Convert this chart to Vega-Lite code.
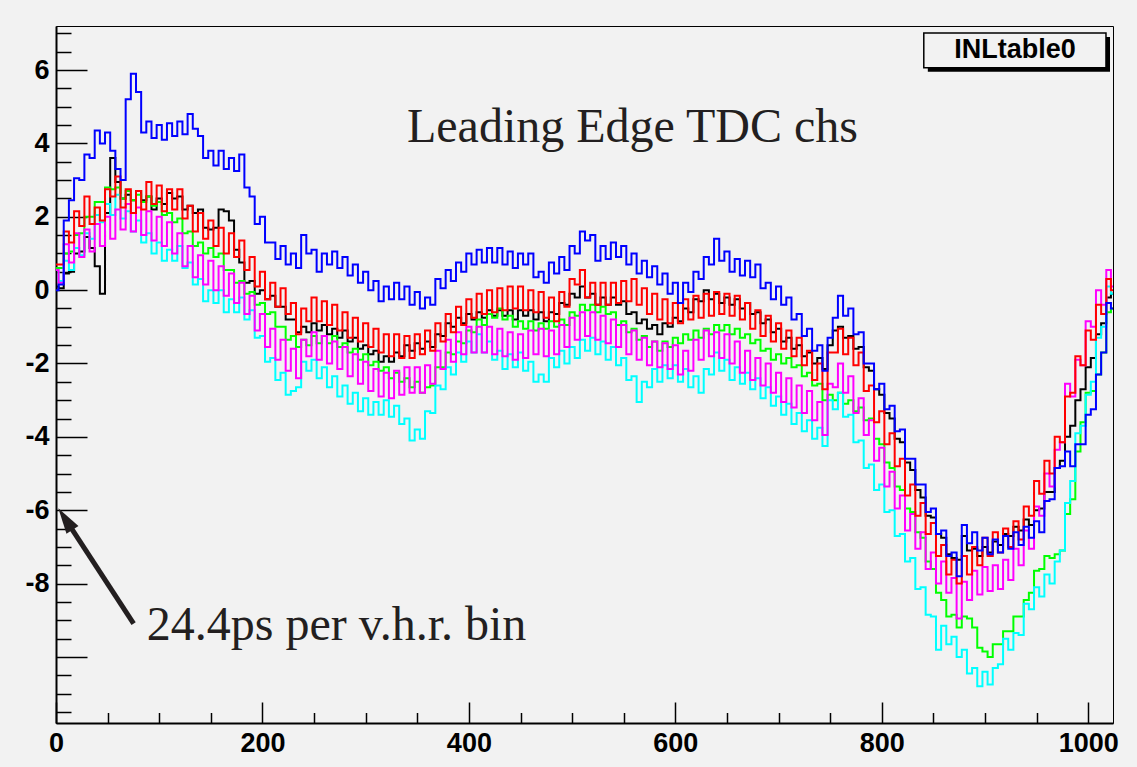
{
"$schema": "https://vega.github.io/schema/vega-lite/v6.json",
"width": 1057, "height": 697,
"autosize": {"type": "none"},
"padding": {"left": 56, "top": 26, "right": 24, "bottom": 44},
"background": "#f2f2f2",
"config": {"view": {"stroke": "#000000", "strokeWidth": 1, "fill": "#f2f2f2"}},
"datasets": {"inl": [
{"x":0,"b":0.0,"k":0.1,"r":0.7,"g":0.6,"m":0.55,"c":0.55},
{"x":5,"b":0.15,"k":0.05,"r":0.7,"g":0.6,"m":0.2,"c":0.25},
{"x":10,"b":1.9,"k":0.45,"r":1.6,"g":1.0,"m":1.25,"c":0.8},
{"x":15,"b":2.45,"k":0.5,"r":1.3,"g":1.05,"m":0.75,"c":0.55},
{"x":20,"b":3.05,"k":1.0,"r":2.15,"g":1.5,"m":1.55,"c":1.15},
{"x":25,"b":3.0,"k":1.05,"r":1.75,"g":1.55,"m":0.9,"c":0.95},
{"x":30,"b":3.7,"k":1.45,"r":2.55,"g":2.0,"m":1.65,"c":1.55},
{"x":35,"b":3.6,"k":1.15,"r":1.8,"g":2.0,"m":1.05,"c":1.4},
{"x":40,"b":4.35,"k":0.65,"r":2.25,"g":2.4,"m":1.8,"c":2.05},
{"x":45,"b":4.0,"k":-0.1,"r":1.9,"g":2.4,"m":1.2,"c":1.85},
{"x":50,"b":4.3,"k":2.1,"r":2.75,"g":2.8,"m":2.0,"c":2.35},
{"x":55,"b":3.8,"k":3.6,"r":2.55,"g":2.75,"m":1.4,"c":2.05},
{"x":60,"b":3.3,"k":2.95,"r":3.1,"g":2.8,"m":2.2,"c":2.6},
{"x":65,"b":3.0,"k":2.5,"r":2.25,"g":2.5,"m":1.65,"c":1.95},
{"x":70,"b":5.2,"k":2.6,"r":2.75,"g":2.7,"m":2.35,"c":2.15},
{"x":75,"b":5.9,"k":2.45,"r":2.1,"g":2.45,"m":1.6,"c":1.6},
{"x":80,"b":5.4,"k":2.7,"r":2.7,"g":2.6,"m":2.25,"c":1.9},
{"x":85,"b":4.3,"k":2.45,"r":2.2,"g":2.4,"m":1.5,"c":1.3},
{"x":90,"b":4.6,"k":2.55,"r":2.95,"g":2.55,"m":2.15,"c":1.55},
{"x":95,"b":4.15,"k":2.2,"r":2.35,"g":2.3,"m":1.35,"c":1.0},
{"x":100,"b":4.5,"k":2.5,"r":2.85,"g":2.4,"m":2.0,"c":1.3},
{"x":105,"b":4.1,"k":2.35,"r":2.15,"g":2.05,"m":1.2,"c":0.8},
{"x":110,"b":4.55,"k":2.65,"r":2.75,"g":2.1,"m":1.85,"c":1.1},
{"x":115,"b":4.2,"k":2.5,"r":2.2,"g":1.85,"m":1.0,"c":0.8},
{"x":120,"b":4.6,"k":2.55,"r":2.75,"g":1.95,"m":1.55,"c":1.2},
{"x":125,"b":4.25,"k":2.2,"r":1.95,"g":1.55,"m":0.65,"c":0.6},
{"x":130,"b":4.8,"k":2.3,"r":2.3,"g":1.6,"m":1.2,"c":0.75},
{"x":135,"b":4.4,"k":2.1,"r":1.6,"g":1.2,"m":0.35,"c":0.15},
{"x":140,"b":4.2,"k":2.2,"r":2.1,"g":1.3,"m":0.95,"c":0.3},
{"x":145,"b":3.6,"k":1.7,"r":1.4,"g":1.0,"m":0.15,"c":-0.3},
{"x":150,"b":3.8,"k":1.65,"r":1.9,"g":1.15,"m":0.8,"c":0.0},
{"x":155,"b":3.4,"k":1.7,"r":1.2,"g":0.9,"m":0.0,"c":-0.35},
{"x":160,"b":3.8,"k":2.2,"r":1.7,"g":1.0,"m":0.65,"c":0.0},
{"x":165,"b":3.3,"k":2.15,"r":1.0,"g":0.55,"m":-0.15,"c":-0.6},
{"x":170,"b":3.6,"k":1.9,"r":1.55,"g":0.55,"m":0.45,"c":-0.25},
{"x":175,"b":3.25,"k":1.1,"r":0.9,"g":0.2,"m":-0.35,"c":-0.6},
{"x":180,"b":3.7,"k":0.75,"r":1.35,"g":0.25,"m":0.2,"c":-0.2},
{"x":185,"b":2.8,"k":0.2,"r":0.55,"g":-0.1,"m":-0.65,"c":-0.8},
{"x":190,"b":2.55,"k":0.25,"r":0.9,"g":-0.05,"m":-0.15,"c":-0.55},
{"x":195,"b":1.8,"k":-0.1,"r":0.1,"g":-0.4,"m":-1.1,"c":-1.3},
{"x":200,"b":2.0,"k":0.0,"r":0.5,"g":-0.35,"m":-0.65,"c":-1.25},
{"x":205,"b":1.3,"k":-0.25,"r":-0.25,"g":-0.65,"m":-1.55,"c":-1.95},
{"x":210,"b":1.3,"k":-0.15,"r":0.2,"g":-0.6,"m":-1.05,"c":-1.85},
{"x":215,"b":0.85,"k":-0.45,"r":-0.45,"g":-1.0,"m":-1.9,"c":-2.45},
{"x":220,"b":1.2,"k":-0.45,"r":0.05,"g":-1.0,"m":-1.35,"c":-2.25},
{"x":225,"b":0.7,"k":-0.8,"r":-0.65,"g":-1.35,"m":-2.2,"c":-2.85},
{"x":230,"b":1.0,"k":-0.8,"r":-0.35,"g":-1.25,"m":-1.6,"c":-2.75},
{"x":235,"b":0.6,"k":-1.15,"r":-1.2,"g":-1.55,"m":-2.4,"c":-2.65},
{"x":240,"b":1.5,"k":-1.0,"r":-0.5,"g":-1.35,"m":-1.35,"c":-1.95},
{"x":245,"b":1.0,"k":-1.15,"r":-0.85,"g":-1.5,"m":-1.8,"c":-2.2},
{"x":250,"b":1.1,"k":-0.9,"r":-0.2,"g":-1.25,"m":-1.15,"c":-1.9},
{"x":255,"b":0.5,"k":-1.1,"r":-0.85,"g":-1.45,"m":-1.9,"c":-2.4},
{"x":260,"b":1.0,"k":-0.95,"r":-0.3,"g":-1.25,"m":-1.25,"c":-2.1},
{"x":265,"b":0.7,"k":-1.2,"r":-0.95,"g":-1.45,"m":-2.0,"c":-2.65},
{"x":270,"b":1.05,"k":-1.05,"r":-0.4,"g":-1.25,"m":-1.4,"c":-2.35},
{"x":275,"b":0.6,"k":-1.3,"r":-1.1,"g":-1.55,"m":-2.15,"c":-2.9},
{"x":280,"b":0.9,"k":-1.1,"r":-0.6,"g":-1.45,"m":-1.55,"c":-2.6},
{"x":285,"b":0.4,"k":-1.4,"r":-1.3,"g":-1.7,"m":-2.35,"c":-3.1},
{"x":290,"b":0.7,"k":-1.3,"r":-0.75,"g":-1.6,"m":-1.75,"c":-2.8},
{"x":295,"b":0.2,"k":-1.6,"r":-1.4,"g":-1.9,"m":-2.55,"c":-3.3},
{"x":300,"b":0.5,"k":-1.5,"r":-0.9,"g":-1.75,"m":-1.95,"c":-2.95},
{"x":305,"b":0.0,"k":-1.75,"r":-1.55,"g":-2.05,"m":-2.75,"c":-3.4},
{"x":310,"b":0.25,"k":-1.65,"r":-1.05,"g":-1.95,"m":-2.15,"c":-3.05},
{"x":315,"b":-0.3,"k":-1.95,"r":-1.7,"g":-2.2,"m":-2.9,"c":-3.4},
{"x":320,"b":0.1,"k":-1.8,"r":-1.2,"g":-2.1,"m":-2.25,"c":-3.0},
{"x":325,"b":-0.25,"k":-1.95,"r":-1.8,"g":-2.4,"m":-2.95,"c":-3.45},
{"x":330,"b":0.2,"k":-1.7,"r":-1.2,"g":-2.25,"m":-2.2,"c":-3.15},
{"x":335,"b":-0.25,"k":-1.8,"r":-1.85,"g":-2.5,"m":-2.85,"c":-3.65},
{"x":340,"b":0.1,"k":-1.5,"r":-1.25,"g":-2.4,"m":-2.1,"c":-3.5},
{"x":345,"b":-0.4,"k":-1.65,"r":-1.85,"g":-2.65,"m":-2.8,"c":-4.1},
{"x":350,"b":-0.05,"k":-1.45,"r":-1.2,"g":-2.5,"m":-2.1,"c":-3.8},
{"x":355,"b":-0.5,"k":-1.6,"r":-1.75,"g":-2.8,"m":-2.8,"c":-4.05},
{"x":360,"b":-0.2,"k":-1.4,"r":-1.1,"g":-2.65,"m":-2.05,"c":-3.3},
{"x":365,"b":-0.4,"k":-1.55,"r":-1.65,"g":-2.6,"m":-2.55,"c":-3.35},
{"x":370,"b":0.3,"k":-1.2,"r":-0.9,"g":-2.1,"m":-1.65,"c":-2.6},
{"x":375,"b":0.05,"k":-1.25,"r":-1.4,"g":-2.1,"m":-2.15,"c":-2.7},
{"x":380,"b":0.55,"k":-0.9,"r":-0.65,"g":-1.7,"m":-1.35,"c":-2.1},
{"x":385,"b":0.25,"k":-1.0,"r":-1.15,"g":-1.75,"m":-1.95,"c":-2.3},
{"x":390,"b":0.75,"k":-0.75,"r":-0.45,"g":-1.4,"m":-1.15,"c":-1.7},
{"x":395,"b":0.5,"k":-0.9,"r":-0.95,"g":-1.45,"m":-1.75,"c":-1.95},
{"x":400,"b":1.0,"k":-0.65,"r":-0.25,"g":-1.1,"m":-1.0,"c":-1.4},
{"x":405,"b":0.7,"k":-0.8,"r":-0.75,"g":-1.15,"m":-1.7,"c":-1.7},
{"x":410,"b":1.1,"k":-0.6,"r":-0.1,"g":-0.8,"m":-1.0,"c":-1.2},
{"x":415,"b":0.75,"k":-0.75,"r":-0.65,"g":-0.95,"m":-1.7,"c":-1.7},
{"x":420,"b":1.15,"k":-0.55,"r":0.0,"g":-0.65,"m":-1.0,"c":-1.4},
{"x":425,"b":0.75,"k":-0.7,"r":-0.6,"g":-0.75,"m":-1.75,"c":-1.9},
{"x":430,"b":1.15,"k":-0.55,"r":0.05,"g":-0.5,"m":-1.05,"c":-1.65},
{"x":435,"b":0.7,"k":-0.7,"r":-0.55,"g":-0.8,"m":-1.8,"c":-2.15},
{"x":440,"b":1.05,"k":-0.55,"r":0.1,"g":-0.7,"m":-1.15,"c":-1.75},
{"x":445,"b":0.6,"k":-0.8,"r":-0.5,"g":-1.0,"m":-1.9,"c":-2.1},
{"x":450,"b":1.0,"k":-0.55,"r":0.1,"g":-0.85,"m":-1.2,"c":-1.7},
{"x":455,"b":0.7,"k":-0.7,"r":-0.55,"g":-1.05,"m":-1.85,"c":-2.2},
{"x":460,"b":1.0,"k":-0.55,"r":0.0,"g":-0.85,"m":-1.1,"c":-1.95},
{"x":465,"b":0.35,"k":-0.8,"r":-0.6,"g":-1.1,"m":-1.75,"c":-2.5},
{"x":470,"b":0.5,"k":-0.6,"r":-0.05,"g":-0.9,"m":-1.05,"c":-2.3},
{"x":475,"b":0.2,"k":-0.85,"r":-0.75,"g":-1.05,"m":-1.8,"c":-2.5},
{"x":480,"b":0.75,"k":-0.6,"r":-0.2,"g":-0.85,"m":-1.1,"c":-1.85},
{"x":485,"b":0.45,"k":-0.65,"r":-0.85,"g":-1.0,"m":-1.75,"c":-2.1},
{"x":490,"b":0.9,"k":-0.35,"r":-0.05,"g":-0.8,"m":-0.95,"c":-1.65},
{"x":495,"b":0.55,"k":-0.4,"r":-0.45,"g":-0.95,"m":-1.55,"c":-2.0},
{"x":500,"b":1.2,"k":-0.1,"r":0.3,"g":-0.6,"m":-0.75,"c":-1.55},
{"x":505,"b":1.0,"k":-0.2,"r":0.15,"g":-0.7,"m":-1.35,"c":-1.85},
{"x":510,"b":1.6,"k":0.1,"r":0.55,"g":-0.4,"m":-0.6,"c":-1.35},
{"x":515,"b":1.35,"k":-0.2,"r":-0.2,"g":-0.55,"m":-1.25,"c":-1.65},
{"x":520,"b":1.5,"k":-0.1,"r":0.2,"g":-0.4,"m":-0.6,"c":-1.3},
{"x":525,"b":0.8,"k":-0.4,"r":-0.4,"g":-0.6,"m":-1.35,"c":-1.75},
{"x":530,"b":1.2,"k":-0.2,"r":0.2,"g":-0.45,"m":-0.7,"c":-1.4},
{"x":535,"b":0.85,"k":-0.4,"r":-0.4,"g":-0.65,"m":-1.45,"c":-1.9},
{"x":540,"b":1.3,"k":-0.2,"r":0.2,"g":-0.6,"m":-0.8,"c":-1.55},
{"x":545,"b":0.9,"k":-0.4,"r":-0.35,"g":-0.95,"m":-1.55,"c":-2.05},
{"x":550,"b":1.2,"k":-0.3,"r":0.25,"g":-0.85,"m":-0.95,"c":-1.85},
{"x":555,"b":0.7,"k":-0.65,"r":-0.3,"g":-1.15,"m":-1.75,"c":-2.45},
{"x":560,"b":1.0,"k":-0.6,"r":0.3,"g":-1.05,"m":-1.1,"c":-2.35},
{"x":565,"b":0.45,"k":-0.9,"r":-0.4,"g":-1.35,"m":-1.9,"c":-3.05},
{"x":570,"b":0.8,"k":-0.8,"r":0.05,"g":-1.25,"m":-1.3,"c":-2.5},
{"x":575,"b":0.35,"k":-1.05,"r":-0.65,"g":-1.55,"m":-2.05,"c":-2.65},
{"x":580,"b":0.65,"k":-0.95,"r":-0.1,"g":-1.4,"m":-1.4,"c":-2.15},
{"x":585,"b":0.15,"k":-1.2,"r":-0.8,"g":-1.65,"m":-2.1,"c":-2.5},
{"x":590,"b":0.45,"k":-0.9,"r":-0.25,"g":-1.4,"m":-1.45,"c":-2.05},
{"x":595,"b":-0.1,"k":-1.0,"r":-0.9,"g":-1.55,"m":-2.15,"c":-2.4},
{"x":600,"b":0.2,"k":-0.75,"r":-0.35,"g":-1.3,"m":-1.5,"c":-2.05},
{"x":605,"b":-0.35,"k":-0.85,"r":-0.9,"g":-1.45,"m":-2.3,"c":-2.5},
{"x":610,"b":0.2,"k":-0.5,"r":-0.25,"g":-1.2,"m":-1.65,"c":-2.15},
{"x":615,"b":-0.05,"k":-0.6,"r":-0.8,"g":-1.35,"m":-2.2,"c":-2.65},
{"x":620,"b":0.5,"k":-0.25,"r":-0.15,"g":-1.1,"m":-1.35,"c":-2.35},
{"x":625,"b":0.3,"k":-0.3,"r":-0.75,"g":-1.3,"m":-1.9,"c":-2.8},
{"x":630,"b":0.9,"k":0.0,"r":-0.1,"g":-1.05,"m":-1.1,"c":-2.15},
{"x":635,"b":0.7,"k":-0.25,"r":-0.7,"g":-1.2,"m":-1.8,"c":-2.3},
{"x":640,"b":1.4,"k":-0.1,"r":-0.05,"g":-0.95,"m":-1.15,"c":-1.7},
{"x":645,"b":0.8,"k":-0.35,"r":-0.65,"g":-1.1,"m":-1.85,"c":-2.2},
{"x":650,"b":1.05,"k":-0.2,"r":-0.1,"g":-0.95,"m":-1.2,"c":-1.9},
{"x":655,"b":0.5,"k":-0.4,"r":-0.7,"g":-1.2,"m":-2.0,"c":-2.45},
{"x":660,"b":0.85,"k":-0.25,"r":-0.15,"g":-1.05,"m":-1.4,"c":-2.1},
{"x":665,"b":0.4,"k":-0.5,"r":-0.8,"g":-1.3,"m":-2.25,"c":-2.55},
{"x":670,"b":0.8,"k":-0.35,"r":-0.35,"g":-1.2,"m":-1.65,"c":-2.25},
{"x":675,"b":0.35,"k":-0.65,"r":-1.05,"g":-1.45,"m":-2.45,"c":-2.7},
{"x":680,"b":0.7,"k":-0.6,"r":-0.55,"g":-1.35,"m":-1.85,"c":-2.4},
{"x":685,"b":0.05,"k":-0.9,"r":-1.25,"g":-1.65,"m":-2.6,"c":-2.95},
{"x":690,"b":0.2,"k":-0.8,"r":-0.7,"g":-1.6,"m":-2.0,"c":-2.65},
{"x":695,"b":-0.25,"k":-1.15,"r":-1.4,"g":-1.9,"m":-2.8,"c":-3.15},
{"x":700,"b":0.1,"k":-1.05,"r":-0.9,"g":-1.75,"m":-2.25,"c":-2.9},
{"x":705,"b":-0.4,"k":-1.4,"r":-1.6,"g":-2.0,"m":-3.05,"c":-3.4},
{"x":710,"b":-0.2,"k":-1.3,"r":-1.1,"g":-1.85,"m":-2.4,"c":-3.1},
{"x":715,"b":-0.8,"k":-1.6,"r":-1.8,"g":-2.1,"m":-3.2,"c":-3.65},
{"x":720,"b":-0.65,"k":-1.5,"r":-1.3,"g":-2.05,"m":-2.6,"c":-3.35},
{"x":725,"b":-1.25,"k":-1.8,"r":-2.05,"g":-2.35,"m":-3.35,"c":-3.85},
{"x":730,"b":-1.05,"k":-1.7,"r":-1.65,"g":-2.25,"m":-2.75,"c":-3.55},
{"x":735,"b":-1.65,"k":-2.0,"r":-2.45,"g":-2.6,"m":-3.55,"c":-4.05},
{"x":740,"b":-1.5,"k":-1.85,"r":-2.0,"g":-2.55,"m":-3.05,"c":-3.75},
{"x":745,"b":-2.2,"k":-2.15,"r":-2.7,"g":-3.0,"m":-3.95,"c":-4.25},
{"x":750,"b":-1.3,"k":-1.5,"r":-1.7,"g":-2.85,"m":-2.55,"c":-3.0},
{"x":755,"b":-0.75,"k":-1.1,"r":-1.7,"g":-3.0,"m":-2.65,"c":-3.25},
{"x":760,"b":-0.15,"k":-1.0,"r":-1.05,"g":-2.8,"m":-2.0,"c":-2.8},
{"x":765,"b":-0.7,"k":-1.3,"r":-1.75,"g":-3.1,"m":-2.8,"c":-3.45},
{"x":770,"b":-0.5,"k":-1.25,"r":-1.3,"g":-3.0,"m":-2.35,"c":-3.4},
{"x":775,"b":-1.2,"k":-1.6,"r":-2.05,"g":-3.3,"m":-3.35,"c":-4.15},
{"x":780,"b":-1.15,"k":-1.55,"r":-1.7,"g":-3.2,"m":-2.95,"c":-4.1},
{"x":785,"b":-2.0,"k":-2.1,"r":-2.75,"g":-3.55,"m":-3.95,"c":-4.85},
{"x":790,"b":-2.0,"k":-2.2,"r":-2.6,"g":-3.5,"m":-3.55,"c":-4.75},
{"x":795,"b":-2.7,"k":-2.7,"r":-3.6,"g":-4.05,"m":-4.65,"c":-5.45},
{"x":800,"b":-2.55,"k":-2.85,"r":-3.3,"g":-4.2,"m":-4.3,"c":-5.3},
{"x":805,"b":-3.25,"k":-3.35,"r":-4.2,"g":-4.7,"m":-5.35,"c":-6.05},
{"x":810,"b":-3.15,"k":-3.5,"r":-3.9,"g":-4.85,"m":-4.95,"c":-6.0},
{"x":815,"b":-3.85,"k":-4.05,"r":-4.8,"g":-5.35,"m":-5.95,"c":-6.7},
{"x":820,"b":-3.8,"k":-4.15,"r":-4.6,"g":-5.45,"m":-5.6,"c":-6.65},
{"x":825,"b":-4.6,"k":-4.7,"r":-5.6,"g":-5.95,"m":-6.55,"c":-7.4},
{"x":830,"b":-4.6,"k":-4.9,"r":-5.3,"g":-6.05,"m":-6.1,"c":-7.3},
{"x":835,"b":-5.3,"k":-5.45,"r":-6.15,"g":-6.6,"m":-7.05,"c":-8.15},
{"x":840,"b":-5.3,"k":-5.65,"r":-5.8,"g":-6.75,"m":-6.6,"c":-8.1},
{"x":845,"b":-6.05,"k":-6.15,"r":-6.65,"g":-7.4,"m":-7.6,"c":-8.85},
{"x":850,"b":-5.95,"k":-6.2,"r":-6.35,"g":-7.6,"m":-7.15,"c":-8.9},
{"x":855,"b":-6.65,"k":-6.65,"r":-7.25,"g":-8.25,"m":-8.0,"c":-9.8},
{"x":860,"b":-6.55,"k":-6.75,"r":-6.95,"g":-8.45,"m":-7.4,"c":-9.15},
{"x":865,"b":-7.25,"k":-7.2,"r":-7.75,"g":-8.9,"m":-8.25,"c":-9.65},
{"x":870,"b":-7.15,"k":-7.3,"r":-7.35,"g":-8.85,"m":-7.85,"c":-9.45},
{"x":875,"b":-7.8,"k":-7.35,"r":-8.0,"g":-9.2,"m":-8.95,"c":-10.0},
{"x":880,"b":-6.4,"k":-6.7,"r":-7.25,"g":-8.9,"m":-7.95,"c":-9.8},
{"x":885,"b":-6.9,"k":-7.1,"r":-7.75,"g":-8.95,"m":-8.45,"c":-10.45},
{"x":890,"b":-6.6,"k":-7.05,"r":-7.0,"g":-9.2,"m":-7.65,"c":-10.3},
{"x":895,"b":-7.1,"k":-7.25,"r":-7.5,"g":-9.75,"m":-8.3,"c":-10.8},
{"x":900,"b":-6.75,"k":-7.0,"r":-6.75,"g":-9.85,"m":-7.55,"c":-10.4},
{"x":905,"b":-7.2,"k":-7.15,"r":-7.25,"g":-10.0,"m":-8.2,"c":-10.75},
{"x":910,"b":-6.8,"k":-6.85,"r":-6.6,"g":-9.65,"m":-7.5,"c":-10.3},
{"x":915,"b":-7.15,"k":-6.95,"r":-7.15,"g":-9.65,"m":-8.15,"c":-10.2},
{"x":920,"b":-6.7,"k":-6.65,"r":-6.5,"g":-9.3,"m":-7.35,"c":-9.5},
{"x":925,"b":-7.05,"k":-6.7,"r":-7.0,"g":-9.3,"m":-7.9,"c":-9.8},
{"x":930,"b":-6.6,"k":-6.45,"r":-6.3,"g":-8.9,"m":-7.05,"c":-9.35},
{"x":935,"b":-6.95,"k":-6.55,"r":-6.8,"g":-8.9,"m":-7.5,"c":-9.4},
{"x":940,"b":-6.45,"k":-6.25,"r":-5.9,"g":-8.45,"m":-6.55,"c":-8.55},
{"x":945,"b":-6.75,"k":-6.4,"r":-6.15,"g":-8.25,"m":-7.05,"c":-8.7},
{"x":950,"b":-6.3,"k":-6.0,"r":-5.2,"g":-7.65,"m":-5.9,"c":-8.1},
{"x":955,"b":-6.6,"k":-5.95,"r":-5.55,"g":-7.6,"m":-6.15,"c":-8.35},
{"x":960,"b":-5.75,"k":-5.5,"r":-4.65,"g":-7.25,"m":-5.0,"c":-7.75},
{"x":965,"b":-5.7,"k":-5.5,"r":-5.0,"g":-7.3,"m":-5.35,"c":-8.0},
{"x":970,"b":-4.85,"k":-4.85,"r":-4.0,"g":-7.2,"m":-4.35,"c":-7.4},
{"x":975,"b":-4.8,"k":-4.65,"r":-4.15,"g":-7.1,"m":-4.15,"c":-7.1},
{"x":980,"b":-4.4,"k":-4.0,"r":-2.9,"g":-6.1,"m":-2.55,"c":-5.8},
{"x":985,"b":-4.8,"k":-3.7,"r":-2.8,"g":-5.7,"m":-2.9,"c":-5.2},
{"x":990,"b":-4.2,"k":-3.0,"r":-1.8,"g":-4.4,"m":-1.9,"c":-3.9},
{"x":995,"b":-4.2,"k":-2.7,"r":-2.05,"g":-3.6,"m":-2.05,"c":-3.7},
{"x":1000,"b":-3.4,"k":-2.1,"r":-1.1,"g":-2.8,"m":-0.85,"c":-2.85},
{"x":1005,"b":-3.25,"k":-1.85,"r":-1.35,"g":-2.75,"m":-1.0,"c":-2.5},
{"x":1010,"b":-2.3,"k":-1.2,"r":-0.4,"g":-2.3,"m":0.0,"c":-1.3},
{"x":1015,"b":-1.7,"k":-0.9,"r":-0.65,"g":-1.7,"m":-0.4,"c":-1.0},
{"x":1020,"b":-0.35,"k":-0.2,"r":0.3,"g":-0.6,"m":0.55,"c":0.1},
{"x":1024,"b":-0.5,"k":-0.1,"r":0.0,"g":-0.5,"m":0.1,"c":-0.1}
]},
"layer": [
{
"data": {"name": "inl"},
"transform": [{"fold": ["k", "g", "c", "m", "r", "b"], "as": ["s", "v"]}],
"mark": {"type": "line", "interpolate": "step", "strokeWidth": 2, "clip": true},
"encoding": {
"x": {"field": "x", "type": "quantitative", "scale": {"domain": [0, 1024], "nice": false, "zero": false},
"axis": {"orient": "bottom", "values": [0, 200, 400, 600, 800, 1000], "format": "d", "tickSize": -21, "tickWidth": 1.5, "tickColor": "#000000", "domainColor": "#000000", "domainWidth": 2, "labelFont": "Liberation Sans", "labelFontWeight": "bold", "labelFontSize": 27, "labelColor": "#000000", "labelPadding": 28, "labelBaseline": "top", "labelFlush": false, "labelOverlap": false, "labelBound": false, "grid": false, "title": null}},
"y": {"field": "v", "type": "quantitative", "scale": {"domain": [-11.8, 7.2], "nice": false, "zero": false},
"axis": {"orient": "left", "values": [-10, -8, -6, -4, -2, 0, 2, 4, 6], "labelExpr": "datum.value == -10 ? '' : '' + datum.value", "tickSize": -31, "tickWidth": 1.5, "tickColor": "#000000", "domainColor": "#000000", "domainWidth": 2, "labelFont": "Liberation Sans", "labelFontWeight": "bold", "labelFontSize": 27, "labelColor": "#000000", "labelPadding": 38, "labelFlush": false, "labelOverlap": false, "labelBound": false, "grid": false, "title": null}},
"color": {"field": "s", "type": "nominal", "legend": null,
"scale": {"domain": ["k", "g", "c", "m", "r", "b"], "range": ["#000000", "#00ff00", "#00ffff", "#ff00ff", "#ff0000", "#0000ff"]}}
}
},
{
"data": {"values": [{"a": 0}]},
"mark": {"type": "point", "opacity": 0},
"encoding": {
"x": {"datum": 500, "type": "quantitative", "scale": {"domain": [0, 1024], "nice": false, "zero": false},
"axis": {"orient": "bottom", "values": [50, 100, 150, 250, 300, 350, 450, 500, 550, 650, 700, 750, 850, 900, 950], "tickSize": -10.5, "tickWidth": 1.5, "tickColor": "#000000", "domain": false, "labels": false, "grid": false, "title": null}},
"y": {"datum": 0, "type": "quantitative", "scale": {"domain": [-11.8, 7.2], "nice": false, "zero": false},
"axis": {"orient": "left", "values": [-11.5, -11, -10.5, -9.5, -9, -8.5, -7.5, -7, -6.5, -5.5, -5, -4.5, -3.5, -3, -2.5, -1.5, -1, -0.5, 0.5, 1, 1.5, 2.5, 3, 3.5, 4.5, 5, 5.5, 6.5, 7], "tickSize": -15, "tickWidth": 1.5, "tickColor": "#000000", "domain": false, "labels": false, "grid": false, "title": null}}
}
},
{
"data": {"values": [{"x1": 844.6, "x2": 1021.1, "y1": 6.9, "y2": 5.95}]},
"mark": {"type": "rect", "fill": "#000000"},
"encoding": {
"x": {"field": "x1", "type": "quantitative", "scale": {"domain": [0, 1024], "nice": false, "zero": false}, "axis": null},
"x2": {"field": "x2"},
"y": {"field": "y1", "type": "quantitative", "scale": {"domain": [-11.8, 7.2], "nice": false, "zero": false}, "axis": null},
"y2": {"field": "y2"}
}
},
{
"data": {"values": [{"x1": 840.7, "x2": 1017.2, "y1": 7.01, "y2": 6.06}]},
"mark": {"type": "rect", "fill": "#f2f2f2", "stroke": "#000000", "strokeWidth": 1.5},
"encoding": {
"x": {"field": "x1", "type": "quantitative", "scale": {"domain": [0, 1024], "nice": false, "zero": false}, "axis": null},
"x2": {"field": "x2"},
"y": {"field": "y1", "type": "quantitative", "scale": {"domain": [-11.8, 7.2], "nice": false, "zero": false}, "axis": null},
"y2": {"field": "y2"}
}
},
{
"data": {"values": [{"x": 929, "y": 6.54, "t": "INLtable0"}]},
"mark": {"type": "text", "font": "Liberation Sans", "fontWeight": "bold", "fontSize": 27, "align": "center", "baseline": "middle", "color": "#000000"},
"encoding": {
"x": {"field": "x", "type": "quantitative", "scale": {"domain": [0, 1024], "nice": false, "zero": false}, "axis": null},
"y": {"field": "y", "type": "quantitative", "scale": {"domain": [-11.8, 7.2], "nice": false, "zero": false}, "axis": null},
"text": {"field": "t"}
}
},
{
"data": {"values": [{"x": 340, "y": 4.044, "t": "Leading Edge TDC chs"}, {"x": 88, "y": -9.545, "t": "24.4ps per v.h.r. bin"}]},
"mark": {"type": "text", "font": "Liberation Serif", "fontSize": 48, "align": "left", "baseline": "alphabetic", "color": "#231f20"},
"encoding": {
"x": {"field": "x", "type": "quantitative", "scale": {"domain": [0, 1024], "nice": false, "zero": false}, "axis": null},
"y": {"field": "y", "type": "quantitative", "scale": {"domain": [-11.8, 7.2], "nice": false, "zero": false}, "axis": null},
"text": {"field": "t"}
}
},
{
"data": {"values": [{"x1": 75.2, "y1": -9.09, "x2": 9.1, "y2": -6.24}]},
"mark": {"type": "rule", "strokeWidth": 5, "color": "#231f20"},
"encoding": {
"x": {"field": "x1", "type": "quantitative", "scale": {"domain": [0, 1024], "nice": false, "zero": false}, "axis": null},
"y": {"field": "y1", "type": "quantitative", "scale": {"domain": [-11.8, 7.2], "nice": false, "zero": false}, "axis": null},
"x2": {"field": "x2"},
"y2": {"field": "y2"}
}
},
{
"data": {"values": [{"x": 9.1, "y": -6.24}]},
"mark": {"type": "point", "shape": "M0,-1L0.55,1L-0.55,1Z", "filled": true, "size": 676, "angle": -33, "color": "#231f20", "opacity": 1},
"encoding": {
"x": {"field": "x", "type": "quantitative", "scale": {"domain": [0, 1024], "nice": false, "zero": false}, "axis": null},
"y": {"field": "y", "type": "quantitative", "scale": {"domain": [-11.8, 7.2], "nice": false, "zero": false}, "axis": null}
}
}
],
"resolve": {"axis": {"x": "independent", "y": "independent"}}
}
